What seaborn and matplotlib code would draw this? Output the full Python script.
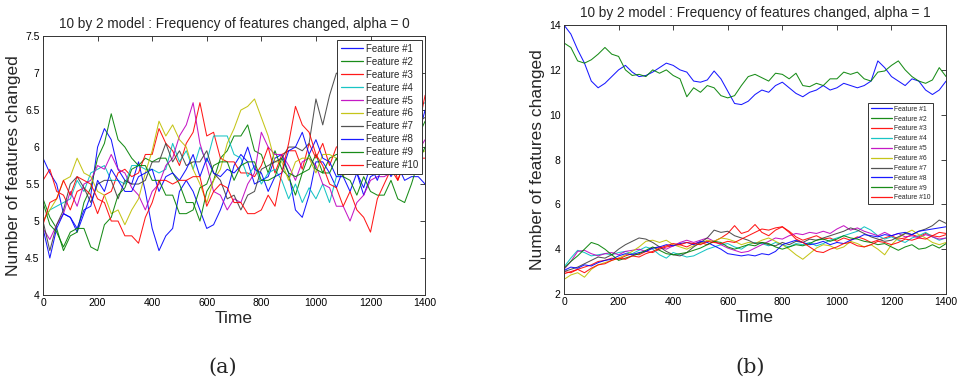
import numpy as np
import pandas as pd
import matplotlib
matplotlib.use("Agg")
import matplotlib.pyplot as plt
from matplotlib.lines import Line2D
import seaborn as sns

# ---------------- data (sampled every 25 time steps, 0..1400) ----------------
time = list(range(0, 1401, 25))
features = ["Feature #%d" % i for i in range(1, 11)]

# panel (a): alpha = 0
a_f1 = [5.85, 5.65, 5.5, 5.1, 5.05, 4.85, 5.1, 5.35, 6.0, 6.25,
        6.1, 5.7, 5.55, 5.5, 5.8, 5.4, 4.9, 4.6, 4.8, 4.9,
        5.4, 5.55, 5.4, 5.15, 4.9, 4.95, 5.15, 5.4, 5.75, 5.9,
        5.8, 5.5, 5.55, 5.6, 5.85, 5.9, 5.65, 5.15, 5.05, 5.35,
        5.8, 5.8, 5.65, 5.45, 5.7, 5.75, 5.65, 5.35, 5.6, 5.65,
        5.65, 5.75, 6.0, 6.05, 6.05, 6.15, 6.5]
a_f2 = [5.3, 5.05, 4.9, 4.6, 4.8, 4.85, 5.25, 5.45, 5.85, 6.05,
        6.45, 6.1, 6.0, 5.85, 5.75, 5.85, 5.8, 5.85, 5.85, 5.65,
        5.5, 5.25, 5.25, 5.0, 5.4, 5.55, 5.85, 5.95, 6.15, 6.15,
        6.3, 5.95, 5.9, 5.65, 5.95, 5.7, 5.6, 5.35, 5.65, 5.7,
        5.9, 5.65, 5.85, 5.9, 5.9, 5.95, 5.95, 5.7, 5.95, 6.0,
        5.95, 5.75, 6.0, 6.05, 6.05, 6.15, 6.35]
a_f3 = [5.55, 5.7, 5.4, 5.35, 5.15, 5.4, 5.45, 5.35, 5.1, 5.35,
        5.4, 5.65, 5.7, 5.6, 5.65, 5.9, 5.9, 6.25, 6.05, 5.95,
        5.75, 6.05, 6.2, 6.6, 6.15, 6.2, 5.85, 5.8, 5.8, 5.65,
        5.65, 5.6, 5.75, 6.0, 5.65, 5.9, 5.95, 5.95, 5.7, 6.05,
        5.85, 6.05, 5.75, 6.0, 6.05, 5.95, 5.7, 5.65, 5.7, 5.95,
        5.65, 5.9, 5.55, 5.8, 5.65, 5.85, 5.85]
a_f4 = [5.0, 5.15, 5.2, 5.25, 5.3, 5.55, 5.4, 5.65, 5.7, 5.75,
        5.55, 5.55, 5.5, 5.75, 5.75, 5.7, 5.7, 5.65, 5.7, 6.05,
        5.8, 5.95, 5.7, 6.0, 5.8, 6.15, 6.15, 6.15, 5.9, 5.85,
        5.6, 5.75, 5.5, 5.65, 5.7, 5.55, 5.3, 5.5, 5.25, 5.45,
        5.3, 5.5, 5.25, 5.6, 5.65, 5.95, 6.0, 6.0, 6.05, 6.05,
        6.1, 6.35, 6.15, 6.4, 6.4, 6.55, 6.6]
a_f5 = [4.9, 4.75, 4.95, 5.1, 5.4, 5.2, 5.5, 5.55, 5.75, 5.7,
        5.9, 5.7, 5.65, 5.45, 5.35, 5.15, 5.4, 5.5, 5.75, 5.85,
        6.15, 6.3, 6.6, 6.05, 5.75, 5.4, 5.35, 5.15, 5.3, 5.25,
        5.5, 5.65, 6.2, 6.0, 5.9, 5.9, 5.75, 5.55, 5.8, 5.85,
        5.75, 5.5, 5.45, 5.2, 5.2, 5.0, 5.25, 5.35, 5.55, 5.6,
        5.6, 5.65, 5.85, 5.7, 5.95, 5.95, 6.1]
a_f6 = [5.0, 5.15, 5.3, 5.55, 5.6, 5.85, 5.65, 5.6, 5.4, 5.35,
        5.1, 5.15, 4.95, 5.15, 5.3, 5.65, 5.95, 6.35, 6.15, 6.3,
        6.1, 6.0, 5.7, 5.5, 5.25, 5.55, 5.7, 6.05, 6.25, 6.5,
        6.55, 6.65, 6.4, 6.15, 5.8, 5.8, 5.55, 5.8, 5.85, 5.85,
        5.65, 5.9, 5.9, 5.85, 5.6, 5.85, 5.85, 5.8, 5.8, 5.75,
        5.75, 6.0, 5.8, 5.95, 5.7, 5.9, 5.95]
a_f7 = [5.0, 4.6, 4.95, 5.15, 5.5, 5.6, 5.45, 5.25, 5.5, 5.55,
        5.55, 5.3, 5.55, 5.5, 5.5, 5.55, 5.8, 5.8, 6.05, 5.8,
        5.95, 5.75, 5.8, 5.8, 5.95, 5.65, 5.55, 5.3, 5.35, 5.15,
        5.35, 5.4, 5.7, 5.75, 5.8, 5.85, 6.0, 6.0, 5.95, 6.05,
        6.65, 6.3, 6.7, 7.0, 6.95, 6.85, 6.75, 6.6, 6.5, 6.4,
        6.3, 6.35, 6.2, 6.3, 6.25, 6.35, 6.4]
a_f8 = [4.9, 4.5, 4.9, 5.1, 5.05, 4.9, 5.15, 5.2, 5.55, 5.4,
        5.7, 5.55, 5.4, 5.4, 5.6, 5.65, 5.7, 5.4, 5.6, 5.65,
        5.55, 5.7, 5.9, 5.6, 5.85, 5.65, 5.6, 5.7, 5.65, 5.75,
        6.0, 5.7, 5.65, 5.4, 5.6, 5.65, 5.95, 6.0, 6.2, 5.9,
        6.1, 5.85, 5.8, 5.6, 5.6, 5.4, 5.65, 5.45, 5.75, 5.55,
        5.8, 5.6, 5.75, 5.55, 5.6, 5.6, 5.5]
a_f9 = [5.25, 4.95, 4.85, 4.65, 4.85, 4.9, 4.9, 4.65, 4.6, 4.95,
        5.05, 5.35, 5.45, 5.7, 5.75, 5.75, 5.55, 5.55, 5.35, 5.35,
        5.1, 5.1, 5.15, 5.45, 5.5, 5.75, 5.8, 5.8, 5.55, 5.75,
        5.8, 5.8, 5.55, 5.55, 5.6, 5.85, 5.65, 5.6, 5.65, 5.9,
        5.7, 5.65, 5.65, 5.85, 5.6, 5.55, 5.35, 5.6, 5.4, 5.35,
        5.35, 5.55, 5.3, 5.25, 5.5, 5.8, 6.0]
a_f10 = [4.95, 5.25, 5.3, 5.55, 5.35, 5.6, 5.55, 5.5, 5.3, 5.25,
         5.0, 5.0, 4.8, 4.8, 4.7, 5.05, 5.25, 5.55, 5.55, 5.5,
         5.55, 5.55, 5.6, 5.6, 5.2, 5.4, 5.5, 5.45, 5.25, 5.25,
         5.1, 5.1, 5.15, 5.35, 5.2, 5.65, 6.05, 6.55, 6.3, 6.2,
         5.9, 5.75, 5.5, 5.45, 5.2, 5.4, 5.15, 5.05, 4.85, 5.3,
         5.5, 5.7, 5.55, 5.8, 5.8, 6.25, 6.7]

# panel (b): alpha = 1
b_f1 = [14.0, 13.6, 12.9, 12.3, 11.5, 11.2, 11.4, 11.7, 12.0, 12.2,
        11.9, 11.7, 11.75, 11.9, 12.1, 12.3, 12.2, 12.0, 11.9, 11.5,
        11.45, 11.55, 11.95, 11.6, 11.05, 10.5, 10.45, 10.6, 10.9, 11.1,
        11.0, 11.3, 11.45, 11.2, 10.95, 10.8, 11.0, 11.1, 11.3, 11.1,
        11.2, 11.4, 11.3, 11.2, 11.3, 11.5, 12.4, 12.1, 11.7, 11.5,
        11.3, 11.6, 11.5, 11.1, 10.9, 11.1, 11.5]
b_f2 = [13.2, 13.0, 12.4, 12.3, 12.45, 12.7, 13.0, 12.7, 12.6, 12.0,
        11.75, 11.8, 11.7, 12.0, 11.85, 12.0, 11.75, 11.6, 10.8, 11.2,
        11.0, 11.3, 11.2, 10.85, 10.75, 10.85, 11.3, 11.7, 11.8, 11.65,
        11.5, 11.85, 11.8, 11.6, 11.85, 11.3, 11.25, 11.4, 11.3, 11.6,
        11.6, 11.9, 11.8, 11.9, 11.6, 11.5, 11.9, 11.95, 12.2, 12.4,
        12.0, 11.7, 11.5, 11.4, 11.55, 12.1, 11.7]
b_f3 = [3.0, 2.95, 3.1, 3.2, 3.3, 3.45, 3.5, 3.6, 3.55, 3.7,
        3.8, 3.75, 3.9, 3.85, 4.0, 4.1, 4.15, 4.2, 4.1, 4.25,
        4.3, 4.2, 4.35, 4.5, 4.7, 5.05, 4.7, 4.8, 5.1, 4.75,
        4.6, 4.85, 5.0, 4.8, 4.55, 4.4, 4.5, 4.6, 4.45, 4.5,
        4.35, 4.5, 4.4, 4.55, 4.45, 4.3, 4.4, 4.5, 4.6, 4.45,
        4.5, 4.65, 4.55, 4.7, 4.6, 4.75, 4.7]
b_f4 = [3.2, 3.6, 3.95, 3.85, 3.7, 3.75, 3.8, 3.75, 3.85, 3.9,
        3.8, 3.95, 4.1, 4.0, 3.75, 3.6, 3.85, 3.75, 3.65, 3.7,
        3.85, 4.0, 4.1, 4.2, 4.25, 4.1, 4.0, 4.2, 4.3, 4.25,
        4.15, 4.3, 4.2, 4.1, 4.25, 4.2, 4.3, 4.15, 4.25, 4.4,
        4.5, 4.6, 4.7, 4.8, 5.0, 4.85, 4.6, 4.45, 4.55, 4.4,
        4.3, 4.5, 4.6, 4.75, 4.55, 4.4, 4.5]
b_f5 = [3.1, 3.45, 3.9, 3.95, 3.8, 3.7, 3.8, 3.85, 3.75, 3.9,
        3.95, 4.0, 3.9, 4.05, 4.1, 4.0, 4.15, 4.3, 4.4, 4.3,
        4.4, 4.5, 4.35, 4.2, 4.05, 3.95, 3.85, 3.9, 4.05, 4.2,
        4.35, 4.5, 4.45, 4.6, 4.7, 4.65, 4.75, 4.7, 4.8, 4.7,
        4.9, 5.05, 4.85, 4.95, 4.8, 4.7, 4.6, 4.75, 4.6, 4.7,
        4.55, 4.6, 4.5, 4.65, 4.55, 4.45, 4.5]
b_f6 = [2.65, 2.85, 2.95, 2.75, 3.1, 3.3, 3.4, 3.5, 3.6, 3.75,
        3.9, 4.1, 4.35, 4.4, 4.3, 4.4, 4.2, 4.1, 4.0, 4.15,
        4.25, 4.4, 4.35, 4.5, 4.45, 4.35, 4.2, 4.3, 4.25, 4.4,
        4.5, 4.35, 4.2, 4.0, 3.75, 3.55, 3.8, 4.05, 4.2, 4.15,
        4.0, 4.1, 4.35, 4.25, 4.1, 4.2, 4.0, 3.75, 4.2, 4.5,
        4.7, 4.85, 4.65, 4.5, 4.3, 4.2, 4.3]
b_f7 = [3.0, 3.1, 3.2, 3.35, 3.5, 3.65, 3.6, 3.75, 4.0, 4.2,
        4.35, 4.5, 4.45, 4.3, 4.1, 3.9, 3.75, 3.7, 3.85, 4.1,
        4.3, 4.5, 4.85, 4.75, 4.8, 4.6, 4.5, 4.4, 4.25, 4.3,
        4.2, 4.15, 4.3, 4.2, 4.35, 4.3, 4.45, 4.4, 4.5, 4.6,
        4.7, 4.8, 4.95, 4.85, 4.7, 4.55, 4.45, 4.35, 4.4, 4.55,
        4.7, 4.65, 4.8, 4.9, 5.05, 5.3, 5.15]
b_f8 = [3.05, 3.2, 3.15, 3.3, 3.25, 3.4, 3.5, 3.55, 3.7, 3.8,
        3.75, 3.85, 3.9, 4.05, 4.1, 4.2, 4.15, 4.25, 4.3, 4.2,
        4.35, 4.3, 4.15, 4.0, 3.8, 3.75, 3.7, 3.75, 3.7, 3.8,
        3.75, 3.9, 4.2, 4.3, 4.4, 4.3, 4.2, 4.25, 4.35, 4.2,
        4.3, 4.25, 4.4, 4.5, 4.65, 4.6, 4.55, 4.65, 4.6, 4.7,
        4.75, 4.65, 4.8, 4.85, 4.9, 4.95, 5.0]
b_f9 = [3.15, 3.45, 3.7, 4.0, 4.3, 4.2, 4.0, 3.75, 3.5, 3.6,
        3.7, 3.8, 3.95, 4.1, 3.95, 3.8, 3.75, 3.8, 3.85, 3.95,
        4.05, 4.2, 4.35, 4.3, 4.1, 4.0, 4.1, 4.2, 4.15, 4.3,
        4.25, 4.1, 4.0, 4.1, 4.2, 4.15, 4.25, 4.4, 4.45, 4.35,
        4.45, 4.6, 4.5, 4.45, 4.35, 4.3, 4.2, 4.25, 4.1, 3.95,
        4.1, 4.2, 4.0, 4.05, 4.2, 4.05, 4.25]
b_f10 = [2.9, 3.0, 3.1, 2.95, 3.15, 3.3, 3.35, 3.5, 3.6, 3.55,
         3.7, 3.65, 3.8, 3.9, 4.05, 4.15, 4.25, 4.2, 4.3, 4.25,
         4.2, 4.35, 4.3, 4.25, 4.35, 4.3, 4.45, 4.6, 4.75, 4.9,
         4.85, 4.95, 5.0, 4.75, 4.45, 4.3, 4.1, 3.9, 3.85, 4.0,
         4.1, 4.25, 4.3, 4.15, 4.1, 4.2, 4.35, 4.3, 4.2, 4.3,
         4.45, 4.4, 4.5, 4.45, 4.6, 4.55, 4.65]

series_a = [a_f1, a_f2, a_f3, a_f4, a_f5, a_f6, a_f7, a_f8, a_f9, a_f10]
series_b = [b_f1, b_f2, b_f3, b_f4, b_f5, b_f6, b_f7, b_f8, b_f9, b_f10]

titles = ["10 by 2 model : Frequency of features changed, alpha = 0",
          "10 by 2 model : Frequency of features changed, alpha = 1"]
xticks = [0, 200, 400, 600, 800, 1000, 1200, 1400]
yticks_a = [4, 4.5, 5, 5.5, 6, 6.5, 7, 7.5]
yticks_b = [2, 4, 6, 8, 10, 12, 14]
panel_tags = ["(a)", "(b)"]

# MATLAB classic colour order
colors = [(0, 0, 1), (0, 0.5, 0), (1, 0, 0), (0, 0.75, 0.75), (0.75, 0, 0.75),
          (0.75, 0.75, 0), (0.25, 0.25, 0.25), (0, 0, 1), (0, 0.5, 0), (1, 0, 0)]


def long_df(series):
    rows = []
    for name, vals in zip(features, series):
        for t, v in zip(time, vals):
            rows.append((t, v, name))
    return pd.DataFrame(rows, columns=["Time", "Value", "Feature"])


sns.set_style("white")
plt.rcParams["font.family"] = ["Liberation Sans", "DejaVu Sans"]

fig = plt.figure(figsize=(9.6, 3.87), dpi=100)
ax1 = fig.add_axes([0.0448, 0.2377, 0.398, 0.669])
ax2 = fig.add_axes([0.5875, 0.2403, 0.398, 0.695])

configs = [
    (ax1, series_a, yticks_a, (4, 7.5), titles[0], 7.0, (0.993, 0.985), 0.3, 2.3),
    (ax2, series_b, yticks_b, (2, 14), titles[1], 4.9, (0.966, 0.71), 0.42, 3.1),
]

for ax, ser, yt, ylim, title, lfs, anchor, lspace, hlen in configs:
    df = long_df(ser)
    sns.lineplot(data=df, x="Time", y="Value", hue="Feature", hue_order=features,
                 palette=colors, estimator=None, linewidth=0.75, alpha=0.9,
                 legend=False, ax=ax)
    ax.set_xlim(0, 1400)
    ax.set_ylim(*ylim)
    ax.set_xticks(xticks)
    ax.set_xticklabels([str(x) for x in xticks])
    ax.set_yticks(yt)
    ax.set_yticklabels([("%g" % y) for y in yt])
    ax.tick_params(direction="in", length=3.5, width=0.6, top=True, right=True,
                   labelsize=7.5, pad=2.5, colors="#222222", labelcolor="black")
    for sp in ax.spines.values():
        sp.set_linewidth(0.7)
        sp.set_color("#333333")
    ax.set_title(title, fontsize=9.8, pad=6)
    ax.set_xlabel("Time", fontsize=12.5)
    ax.set_ylabel("Number of features changed", fontsize=12.5)
    handles = [Line2D([], [], color=c, linewidth=0.9, alpha=0.9) for c in colors]
    leg = ax.legend(handles=handles, labels=features, loc="upper right",
                    bbox_to_anchor=anchor, fontsize=lfs, frameon=True, fancybox=False,
                    edgecolor="#333333", framealpha=1, borderpad=0.4,
                    labelspacing=lspace, handlelength=hlen, handletextpad=0.3,
                    borderaxespad=0.0)
    leg.get_frame().set_linewidth(0.7)

ax1.xaxis.set_label_coords(0.5, -0.06)
ax2.xaxis.set_label_coords(0.5, -0.06)
ax1.yaxis.set_label_coords(-0.057, 0.5)
ax2.yaxis.set_label_coords(-0.05, 0.5)

fig.text(223 / 960, 1 - 367 / 387, panel_tags[0], ha="center", va="center",
         fontsize=15, family=["DejaVu Serif"])
fig.text(750 / 960, 1 - 367 / 387, panel_tags[1], ha="center", va="center",
         fontsize=15, family=["DejaVu Serif"])

fig.savefig("out.png", dpi=100)
